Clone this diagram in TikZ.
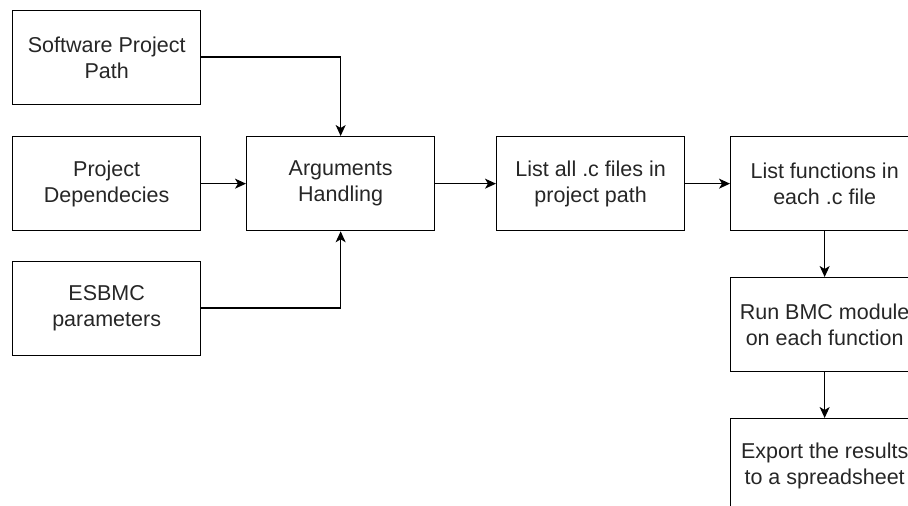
\documentclass[tikz,border=0pt]{standalone}
\usepackage{fontspec}
\setmainfont{Liberation Sans}
\usetikzlibrary{arrows.meta}
\begin{document}
\begin{tikzpicture}[x=1pt,y=-1pt,
  box/.style={draw, line width=1.3pt, minimum width=188pt, minimum height=94pt, inner sep=0pt, align=center, font=\fontsize{21.5}{26}\selectfont, text=black!85, anchor=north west},
  conn/.style={line width=1.3pt, -{Stealth[length=11pt,width=10pt,inset=3pt]}}]
\useasboundingbox (0,0) rectangle (908,506);
\begin{scope}
\clip (0,0) rectangle (908,506);
\node[box] (spp) at (12,10) {Software Project\\Path};
\node[box] (dep) at (12,136) {Project\\Dependecies};
\node[box] (esb) at (12,261) {ESBMC\\parameters};
\node[box] (arg) at (246,136) {Arguments\\Handling};
\node[box] (lst) at (496,136) {List all .c files in\\project path};
\node[box] (fun) at (730,136) {List functions in\\each .c file};
\node[box] (run) at (730,277) {Run BMC module\\on each function};
\node[box] (exp) at (730,418) {Export the results\\to a spreadsheet};
\draw[conn] (spp.east |- 0,57) -| (arg.north);
\draw[conn] (dep.east) -- (arg.west);
\draw[conn] (esb.east |- 0,308) -| (arg.south);
\draw[conn] (arg.east) -- (lst.west);
\draw[conn] (lst.east) -- (fun.west);
\draw[conn] (fun.south) -- (run.north);
\draw[conn] (run.south) -- (exp.north);
\end{scope}
\end{tikzpicture}
\end{document}
